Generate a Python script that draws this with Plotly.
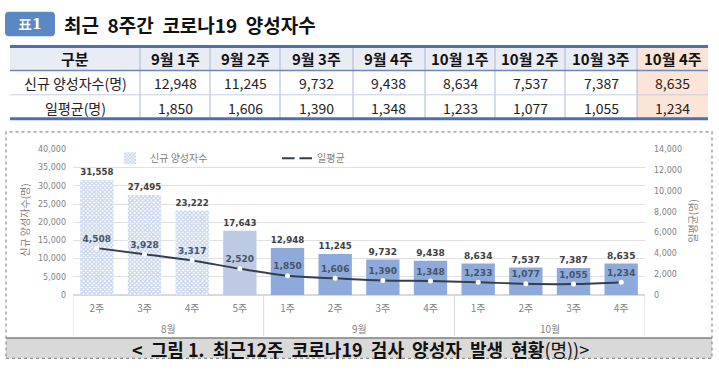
import plotly.graph_objects as go

W, H = 719, 382

# ---------------- data ----------------
table_weeks = ["9월 1주", "9월 2주", "9월 3주", "9월 4주", "10월 1주", "10월 2주", "10월 3주", "10월 4주"]
table_new = [12948, 11245, 9732, 9438, 8634, 7537, 7387, 8635]
table_avg = [1850, 1606, 1390, 1348, 1233, 1077, 1055, 1234]
row_labels = ["신규 양성자수(명)", "일평균(명)"]

week_labels = ["2주", "3주", "4주", "5주", "1주", "2주", "3주", "4주", "1주", "2주", "3주", "4주"]
month_labels = ["8월", "9월", "10월"]
month_sizes = [4, 4, 4]
new_cases = [31558, 27495, 23222, 17643, 12948, 11245, 9732, 9438, 8634, 7537, 7387, 8635]
daily_avg = [4508, 3928, 3317, 2520, 1850, 1606, 1390, 1348, 1233, 1077, 1055, 1234]

KR = "Noto Sans CJK KR"
NUM = "DejaVu Sans"


def px(x):
    return x / W


def py(y):
    return 1 - y / H


x_idx = list(range(len(new_cases)))
n_pat = 3  # first bars drawn with hatch pattern

fig = go.Figure()

# ---------------- chart traces ----------------
fig.add_trace(go.Bar(
    x=x_idx[:n_pat], y=new_cases[:n_pat], name="신규 양성자수",
    marker=dict(color="white", line=dict(width=0),
                pattern=dict(shape="x", fgcolor="#8aa6d8", bgcolor="white", size=3, solidity=0.6)),
    text=[f"<b>{v:,}</b>" for v in new_cases[:n_pat]], textposition="outside",
    textfont=dict(family=NUM, size=9, color="#404040"), cliponaxis=False,
    showlegend=True,
))
solid_colors = ["#bccbe3"] + ["#8eaadb"] * (len(new_cases) - n_pat - 1)
fig.add_trace(go.Bar(
    x=x_idx[n_pat:], y=new_cases[n_pat:], name="신규 양성자수",
    marker=dict(color=solid_colors, line=dict(width=0)),
    text=[f"<b>{v:,}</b>" for v in new_cases[n_pat:]], textposition="outside",
    textfont=dict(family=NUM, size=9, color="#404040"), cliponaxis=False,
    showlegend=False,
))

fig.add_trace(go.Scatter(
    x=x_idx, y=daily_avg, name="일평균", yaxis="y2",
    mode="lines+markers+text", line=dict(color="#333f50", width=2, shape="spline"),
    marker=dict(color="white", size=5, line=dict(width=0)),
    text=[f"<b>{v:,}</b>" for v in daily_avg], textposition="top center",
    textfont=dict(family=NUM, size=9, color="#44546a"), cliponaxis=False,
))

shapes = []
annotations = []

# ---------------- table (shapes + text) ----------------
col_edges = [10, 140, 210, 280, 353, 425, 495, 565, 637, 708]
row_edges = [43, 68, 93, 118]
n_cols = len(col_edges) - 1
hi_col = n_cols - 1  # highlighted last column

for c in range(n_cols):
    hdr_col = "#fbe4d5" if c == hi_col else "#e9ecf3"
    shapes.append(dict(type="rect", xref="paper", yref="paper", x0=px(col_edges[c]), x1=px(col_edges[c + 1]),
                       y0=py(row_edges[1]), y1=py(row_edges[0]), fillcolor=hdr_col, line=dict(width=0),
                       layer="below"))
    if c == hi_col:
        shapes.append(dict(type="rect", xref="paper", yref="paper", x0=px(col_edges[c]), x1=px(col_edges[c + 1]),
                           y0=py(row_edges[3]), y1=py(row_edges[1]), fillcolor="#fce4d6", line=dict(width=0),
                           layer="below"))
for xe in col_edges[1:-1]:
    shapes.append(dict(type="line", xref="paper", yref="paper", x0=px(xe), x1=px(xe),
                       y0=py(row_edges[3]), y1=py(row_edges[0]), line=dict(color="#a9b7d6", width=1)))
shapes.append(dict(type="line", xref="paper", yref="paper", x0=px(10), x1=px(708), y0=py(93), y1=py(93),
                   line=dict(color="#c5cde0", width=1)))
shapes.append(dict(type="line", xref="paper", yref="paper", x0=px(10), x1=px(708), y0=py(68), y1=py(68),
                   line=dict(color="#6d86bd", width=1.5)))
shapes.append(dict(type="line", xref="paper", yref="paper", x0=px(10), x1=px(708), y0=py(43.5), y1=py(43.5),
                   line=dict(color="#4f6eae", width=3)))
shapes.append(dict(type="line", xref="paper", yref="paper", x0=px(10), x1=px(708), y0=py(117.5), y1=py(117.5),
                   line=dict(color="#4f6eae", width=3)))

header_texts = ["구분"] + table_weeks
row1 = [row_labels[0]] + [f"{v:,}" for v in table_new]
row2 = [row_labels[1]] + [f"{v:,}" for v in table_avg]
for c in range(n_cols):
    cx = px((col_edges[c] + col_edges[c + 1]) / 2)
    annotations.append(dict(text=f"<b>{header_texts[c]}</b>", xref="paper", yref="paper", x=cx,
                            y=py((row_edges[0] + row_edges[1]) / 2 + 0.5), showarrow=False,
                            xanchor="center", yanchor="middle",
                            font=dict(family=KR, size=15, color="#111111")))
    for r, row in enumerate([row1, row2]):
        annotations.append(dict(text=row[c], xref="paper", yref="paper", x=cx,
                                y=py((row_edges[r + 1] + row_edges[r + 2]) / 2 + 0.5), showarrow=False,
                                xanchor="center", yanchor="middle",
                                font=dict(family=KR, size=14, color="#222222")))

# ---------------- title badge ----------------
bx0, bx1, by0, by1, rr = 5, 55, 8, 33, 4
path = (f"M {px(bx0 + rr)} {py(by0)} L {px(bx1 - rr)} {py(by0)} Q {px(bx1)} {py(by0)} {px(bx1)} {py(by0 + rr)} "
        f"L {px(bx1)} {py(by1 - rr)} Q {px(bx1)} {py(by1)} {px(bx1 - rr)} {py(by1)} "
        f"L {px(bx0 + rr)} {py(by1)} Q {px(bx0)} {py(by1)} {px(bx0)} {py(by1 - rr)} "
        f"L {px(bx0)} {py(by0 + rr)} Q {px(bx0)} {py(by0)} {px(bx0 + rr)} {py(by0)} Z")
shapes.append(dict(type="path", xref="paper", yref="paper", path=path, fillcolor="#5b87c5",
                   line=dict(width=0), layer="below"))
annotations.append(dict(text="<b>표1</b>", xref="paper", yref="paper", x=px(30), y=py(20.5),
                        showarrow=False, font=dict(family="DejaVu Serif", size=14, color="white"),
                        xanchor="center", yanchor="middle"))
annotations.append(dict(text="<b>최근  8주간  코로나19  양성자수</b>", xref="paper", yref="paper", x=px(62), y=py(20.5),
                        showarrow=False, font=dict(family=KR, size=19, color="#111111"),
                        xanchor="left", yanchor="middle"))

# ---------------- chart frame and caption strip ----------------
shapes.append(dict(type="rect", xref="paper", yref="paper", x0=px(6), x1=px(712), y0=py(363), y1=py(342),
                   fillcolor="#d9d9d9", line=dict(width=0), layer="below"))
shapes.append(dict(type="line", xref="paper", yref="paper", x0=px(6), x1=px(712), y0=py(342), y1=py(342),
                   line=dict(color="#7f7f7f", width=1.5)))
shapes.append(dict(type="rect", xref="paper", yref="paper", x0=px(6), x1=px(712), y0=py(363), y1=py(131),
                   line=dict(color="#8c8c8c", width=1.2, dash="dot")))

# month separators and labels
bounds = [-0.5]
for s in month_sizes:
    bounds.append(bounds[-1] + s)
for xb in bounds:
    shapes.append(dict(type="line", xref="x", yref="paper", x0=xb, x1=xb, y0=py(298), y1=py(340),
                       line=dict(color="#d9d9d9", width=1)))
for m, s, b0 in zip(month_labels, month_sizes, bounds[:-1]):
    annotations.append(dict(text=m, xref="x", yref="paper", x=b0 + s / 2, y=py(332), showarrow=False,
                            font=dict(family=KR, size=10, color="#7f7f7f"), xanchor="center", yanchor="middle"))

# axis titles
annotations.append(dict(text="신규 양성자수(명)", xref="paper", yref="paper", x=px(25), y=py(222), textangle=-90,
                        showarrow=False, xanchor="center", yanchor="middle",
                        font=dict(family=KR, size=10, color="#7f7f7f")))
annotations.append(dict(text="일평균(명)", xref="paper", yref="paper", x=px(693), y=py(222), textangle=-90,
                        showarrow=False, xanchor="center", yanchor="middle",
                        font=dict(family=KR, size=10, color="#7f7f7f")))
# caption
annotations.append(dict(text="<b><  그림 1.  최근12주  코로나19  검사  양성자  발생  현황</b>(명))>", xref="paper", yref="paper",
                        x=px(360), y=py(353), showarrow=False, xanchor="center", yanchor="middle",
                        font=dict(family=KR, size=18, color="#111111")))

fig.update_layout(
    width=W, height=H, margin=dict(l=0, r=0, t=0, b=0),
    paper_bgcolor="white", plot_bgcolor="white",
    barmode="overlay", bargap=0.3, showlegend=True,
    legend=dict(orientation="h", x=px(110), xanchor="left", y=py(158), yanchor="middle",
                bgcolor="rgba(0,0,0,0)", font=dict(family=KR, size=10, color="#7f7f7f"),
                entrywidth=122, entrywidthmode="pixels", traceorder="normal"),
    xaxis=dict(domain=[px(73), px(645)], range=[-0.5, 11.5], tickvals=x_idx, ticktext=week_labels,
               showgrid=False, zeroline=False, showline=False, ticks="",
               tickfont=dict(family=KR, size=10, color="#7f7f7f"), ticklabelstandoff=6),
    yaxis=dict(domain=[py(298), py(149)], range=[0, 40000], dtick=5000, tickformat=",",
               showgrid=True, gridcolor="#e0e0e0", zeroline=True, zerolinecolor="#d9d9d9",
               tickfont=dict(family=NUM, size=8, color="#7f7f7f"), ticklabelstandoff=6),
    yaxis2=dict(domain=[py(298), py(149)], overlaying="y", side="right", range=[0, 14000], dtick=2000,
                tickformat=",", showgrid=False, zeroline=False,
                tickfont=dict(family=NUM, size=8, color="#7f7f7f"), ticklabelstandoff=8),
    shapes=shapes, annotations=annotations,
)

fig.write_html("out.html", config={"displayModeBar": False},
               post_script="document.body.style.margin='0';")
